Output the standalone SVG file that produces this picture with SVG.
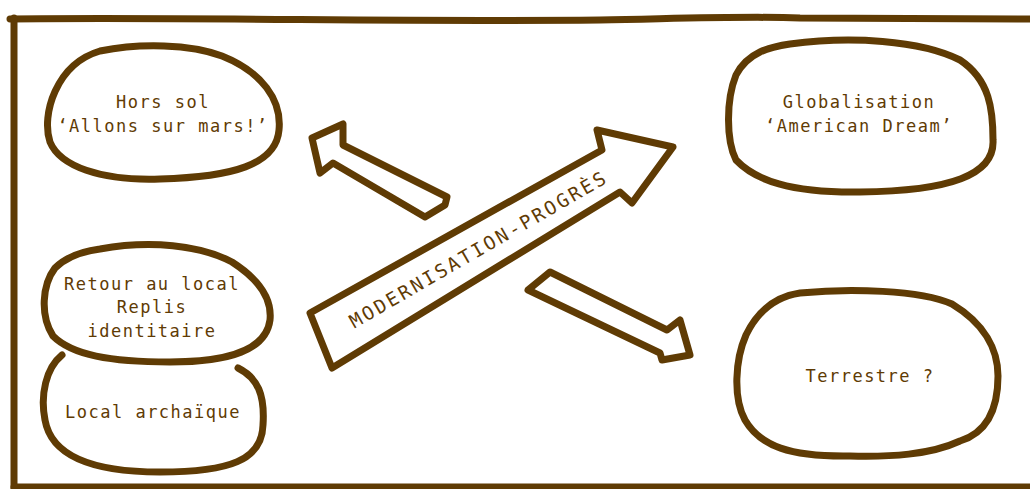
<svg xmlns="http://www.w3.org/2000/svg" width="1030" height="489" viewBox="0 0 1030 489">
<style>
.ink{fill:none;stroke:#5f3b04;stroke-width:7;stroke-linecap:round;stroke-linejoin:round}
.arrow{fill:#fff;stroke:#5f3b04;stroke-width:7;stroke-linecap:round;stroke-linejoin:round}
.lbl{font-family:"DejaVu Sans Mono","Liberation Mono",monospace;font-size:17px;letter-spacing:1.5px;fill:#5f3b04;text-anchor:middle}
.big{font-family:"DejaVu Sans Mono","Liberation Mono",monospace;font-size:19px;letter-spacing:2.6px;fill:#5f3b04;text-anchor:middle}
</style>
<rect width="1030" height="489" fill="#fff"/>
<g id="frame">
<path class="ink" d="M10,19 C200,17 400,22 600,20 C700,18 750,16 800,18 C900,19 980,19 1032,19"/>
<path class="ink" d="M14,18 C13,150 15,300 14,492"/>
<path class="ink" d="M14,487 C300,486 600,488 1032,487"/>
</g>
<g id="connectors">
<path id="arrow-hors-sol" class="arrow" d="M312,138 L343,124 L343,145 L447,197 L445,205 L425,217 L333,163 L320,173 Z"/>
<path id="arrow-terrestre" class="arrow" d="M550,272 L667,330 L680,320 L690,355 L662,360 L660,353 L528,290 Z"/>
<path id="arrow-modernisation" class="arrow" d="M310,313 L602,150 L597,130 L673,147 L632,203 L620,192 L332,368 Z"/>
<text class="big" transform="translate(482,255) rotate(-30)">MODERNISATION-PROGRÈS</text>
</g>
<g id="node-hors-sol">
<path class="ink" d="M100,51 C140,43 190,44 222,56 C262,72 282,100 279,130 C276,165 232,177 160,179 C100,181 60,166 50,142 C41,115 56,64 100,51 Z"/>
<text class="lbl" x="163" y="108">Hors sol</text>
<text class="lbl" x="163" y="132">‘Allons sur mars!’</text>
</g>
<g id="node-globalisation">
<path class="ink" d="M790,44 C850,36 920,40 960,60 C990,80 993,110 993,140 C995,175 950,191 860,192 C790,193 755,180 736,160 C726,140 726,100 736,75 C748,52 770,47 790,44 Z"/>
<text class="lbl" x="859" y="108">Globalisation</text>
<text class="lbl" x="859" y="132">‘American Dream’</text>
</g>
<g id="node-terrestre">
<path class="ink" d="M800,293 C850,288 920,290 952,304 C985,324 998,350 998,376 C998,410 986,433 960,441 C930,455 890,457 850,456 C790,457 760,446 745,420 C733,398 735,360 746,335 C760,306 780,296 800,293 Z"/>
<text class="lbl" x="870" y="382">Terrestre ?</text>
</g>
<g id="node-retour">
<path class="ink" d="M100,249 C150,240 200,245 232,262 C260,280 272,300 270,320 C266,350 230,362 170,362 C110,362 72,355 53,336 C40,316 42,285 55,268 C68,255 85,251 100,249 Z"/>
<text class="lbl" x="152" y="290">Retour au local</text>
<text class="lbl" x="152" y="313">Replis</text>
<text class="lbl" x="152" y="337">identitaire</text>
</g>
<g id="node-local-archaique">
<path class="ink" d="M62,355 C46,368 40,395 45,420 C52,460 100,472 160,472 C230,472 262,460 263,425 C265,395 258,378 238,368"/>
<text class="lbl" x="153" y="418">Local archaïque</text>
</g>
</svg>
